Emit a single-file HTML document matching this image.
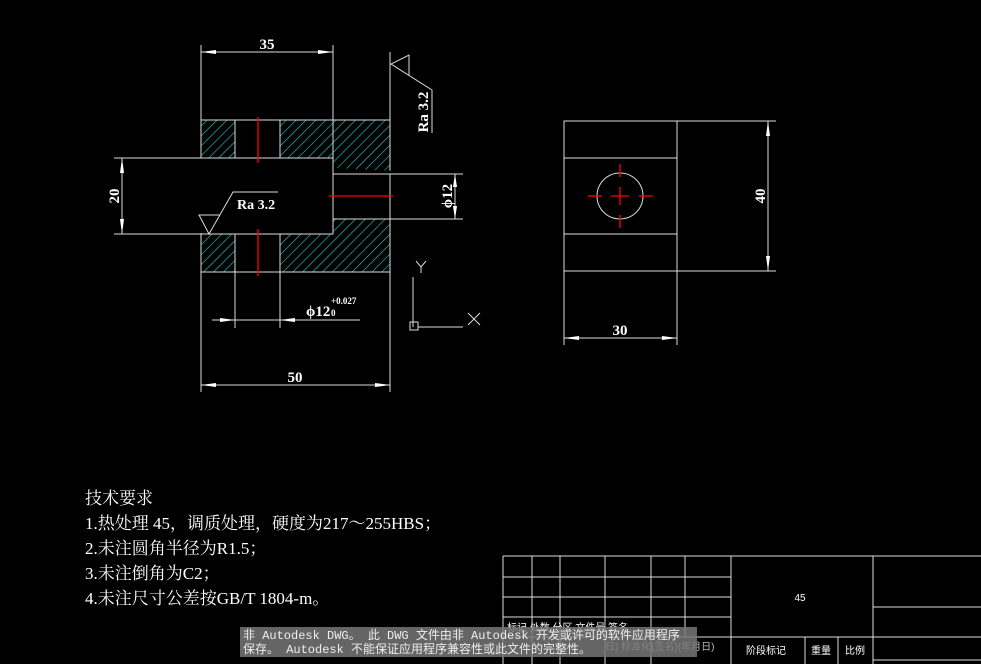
<!DOCTYPE html>
<html><head><meta charset="utf-8"><style>
body{margin:0;background:#000;width:981px;height:664px;overflow:hidden}
svg{position:absolute;left:0;top:0}
.t{font-family:"Liberation Serif","Noto Serif CJK SC",serif;fill:#fff}
</style></head><body>
<svg width="981" height="664" viewBox="0 0 981 664">
<defs>
<pattern id="h" width="7" height="7" patternUnits="userSpaceOnUse" patternTransform="rotate(45)">
<line x1="0" y1="0" x2="0" y2="7" stroke="#22d0d0" stroke-width="1.2"/></pattern>
</defs>
<g fill="url(#h)">
<rect x="201" y="120" width="34" height="38"/><rect x="280" y="120" width="110" height="38"/>
<rect x="333" y="158" width="57" height="16"/><rect x="333" y="219" width="57" height="15"/>
<rect x="201" y="234" width="34" height="38"/><rect x="280" y="234" width="110" height="38"/>
</g>
<g stroke="#ddd" stroke-width="1" fill="none">
<rect x="201" y="120" width="189" height="152"/>
<line x1="235" y1="120" x2="235" y2="158"/><line x1="280" y1="120" x2="280" y2="158"/>
<line x1="235" y1="234" x2="235" y2="328"/><line x1="280" y1="234" x2="280" y2="328"/>
<polyline points="114,158 333,158 333,174 463,174" fill="#000"/>
<polyline points="114,234 333,234 333,219 463,219"/>
<rect x="114" y="159" width="218" height="74" fill="#000" stroke="none"/>
<rect x="334" y="175" width="55" height="43" fill="#000" stroke="none"/>
<line x1="114" y1="158" x2="333" y2="158"/><line x1="114" y1="234" x2="333" y2="234"/>
<line x1="333" y1="158" x2="333" y2="234"/>
<line x1="201" y1="45" x2="201" y2="120"/><line x1="333" y1="45" x2="333" y2="158"/>
<line x1="201" y1="52" x2="333" y2="52"/>
<line x1="201" y1="272" x2="201" y2="392"/><line x1="390" y1="272" x2="390" y2="392"/>
<line x1="201" y1="385" x2="390" y2="385"/>
<line x1="122" y1="158" x2="122" y2="234"/>
<line x1="455" y1="174" x2="455" y2="219"/>
<line x1="212" y1="320" x2="360" y2="320"/>
<line x1="390" y1="52" x2="390" y2="120"/>
<polyline points="432,133 432,90 391,64 409,55 409,75"/>
<polyline points="278,192 233,192 209,234 199,215 220,215"/>
<line x1="413" y1="277" x2="413" y2="327"/><line x1="418" y1="327" x2="463" y2="327"/>
<rect x="410" y="322" width="8" height="8"/>
<polyline points="416,261 421,267 426,261"/><line x1="421" y1="267" x2="421" y2="273"/>
<line x1="468" y1="313" x2="480" y2="325"/><line x1="480" y1="313" x2="468" y2="325"/>
<rect x="564" y="121" width="113" height="150"/>
<line x1="564" y1="158" x2="677" y2="158"/><line x1="564" y1="234" x2="677" y2="234"/>
<circle cx="620" cy="196" r="23"/>
<line x1="677" y1="121" x2="776" y2="121"/><line x1="677" y1="271" x2="776" y2="271"/>
<line x1="768" y1="121" x2="768" y2="271"/>
<line x1="564" y1="271" x2="564" y2="345"/><line x1="677" y1="271" x2="677" y2="345"/>
<line x1="564" y1="338" x2="677" y2="338"/>
</g>
<g fill="#fff">
<polygon points="201,52 216,50 216,54"/><polygon points="333,52 318,50 318,54"/>
<polygon points="201,385 216,383 216,387"/><polygon points="390,385 375,383 375,387"/>
<polygon points="122,158 120,173 124,173"/><polygon points="122,234 120,219 124,219"/>
<polygon points="455,174 453,187 457,187"/><polygon points="455,219 453,206 457,206"/>
<polygon points="235,320 220,318 220,322"/><polygon points="280,320 295,318 295,322"/>
<polygon points="768,121 766,136 770,136"/><polygon points="768,271 766,256 770,256"/>
<polygon points="564,338 579,336 579,340"/><polygon points="677,338 662,336 662,340"/>
</g>
<g stroke="#f00" stroke-width="1.3">
<line x1="258" y1="117" x2="258" y2="163"/><line x1="258" y1="229" x2="258" y2="276"/>
<line x1="329" y1="196" x2="393" y2="196"/>
<line x1="620" y1="164" x2="620" y2="177"/><line x1="620" y1="187" x2="620" y2="205"/><line x1="620" y1="215" x2="620" y2="228"/>
<line x1="588" y1="196" x2="602" y2="196"/><line x1="611" y1="196" x2="629" y2="196"/><line x1="639" y1="196" x2="653" y2="196"/>
</g>
<g class="t" font-size="15" font-weight="bold">
<text x="267" y="49" text-anchor="middle">35</text>
<text x="295" y="382" text-anchor="middle">50</text>
<text x="620" y="335" text-anchor="middle">30</text>
<text transform="translate(119,196) rotate(-90)" text-anchor="middle">20</text>
<text transform="translate(452,196) rotate(-90)" text-anchor="middle">ϕ12</text>
<text transform="translate(765,196) rotate(-90)" text-anchor="middle">40</text>
<text transform="translate(428,112) rotate(-90)" text-anchor="middle">Ra 3.2</text>
<text x="237" y="209" font-size="14">Ra 3.2</text>
<text x="306" y="316">ϕ12</text>
<text x="331" y="304" font-size="9">+0.027</text>
<text x="331" y="316" font-size="9">0</text>
</g>
<g class="t" font-size="17">
<text x="85" y="504">技术要求</text>
<text x="85" y="529">1.热处理 45，调质处理，硬度为217～255HBS；</text>
<text x="85" y="554">2.未注圆角半径为R1.5；</text>
<text x="85" y="579">3.未注倒角为C2；</text>
<text x="85" y="604">4.未注尺寸公差按GB/T 1804-m。</text>
</g>
<g stroke="#ddd" stroke-width="1" fill="none">
<line x1="503" y1="556" x2="981" y2="556"/>
<line x1="503" y1="577" x2="731" y2="577"/><line x1="503" y1="597" x2="731" y2="597"/>
<line x1="503" y1="617" x2="731" y2="617"/><line x1="503" y1="637" x2="981" y2="637"/>
<line x1="873" y1="607" x2="981" y2="607"/><line x1="873" y1="660" x2="981" y2="660"/>
<line x1="503" y1="556" x2="503" y2="664"/><line x1="532" y1="556" x2="532" y2="664"/>
<line x1="560" y1="556" x2="560" y2="664"/><line x1="605" y1="556" x2="605" y2="664"/>
<line x1="651" y1="556" x2="651" y2="664"/><line x1="685" y1="556" x2="685" y2="637"/>
<line x1="731" y1="556" x2="731" y2="664"/><line x1="873" y1="556" x2="873" y2="664"/>
<line x1="805" y1="637" x2="805" y2="664"/><line x1="838" y1="637" x2="838" y2="664"/>
</g>
<g font-family="Liberation Sans,'Noto Sans CJK SC',sans-serif" fill="#fff" font-size="10">
<text x="800" y="601" text-anchor="middle">45</text>
<text x="766" y="654" text-anchor="middle">阶段标记</text>
<text x="821" y="654" text-anchor="middle">重量</text>
<text x="855" y="654" text-anchor="middle">比例</text>
<text x="507" y="631">标记 处数  分区  文件号 签名</text>
<text x="605" y="650" fill="#bbb">日) 标准化(签名)(年月日)</text>
</g>
<rect x="240" y="627" width="457" height="30" fill="#777" fill-opacity="0.85"/>
<g font-family="Liberation Mono,'Noto Sans CJK SC',monospace" fill="#eee" font-size="12">
<text x="243" y="639">非 Autodesk DWG。 此 DWG 文件由非 Autodesk 开发或许可的软件应用程序</text>
<text x="243" y="653">保存。 Autodesk 不能保证应用程序兼容性或此文件的完整性。</text>
</g>
</svg>
</body></html>
